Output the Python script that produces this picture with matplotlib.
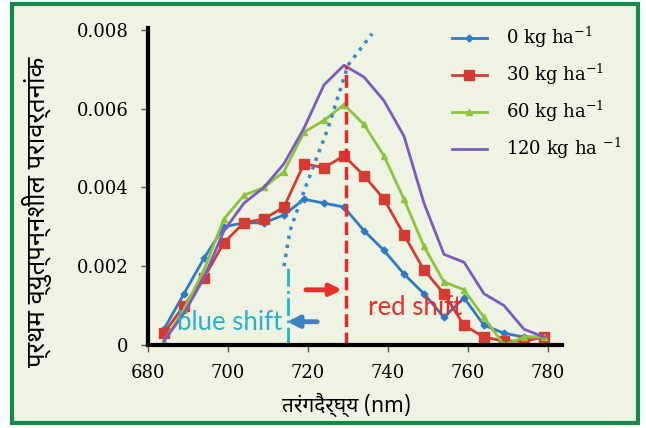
import matplotlib
matplotlib.use('Agg')
import matplotlib.pyplot as plt
from matplotlib import font_manager
from matplotlib.ft2font import FT2Font
from matplotlib.patches import Rectangle

""" Data """

wavelength = [684, 689, 694, 699, 704, 709, 714, 719, 724, 729,
              734, 739, 744, 749, 754, 759, 764, 769, 774, 779]
kg0 = [0.0004, 0.0013, 0.0022, 0.0030, 0.0031, 0.0031, 0.0033, 0.0037, 0.0036, 0.0035,
       0.0029, 0.0024, 0.0018, 0.0013, 0.0007, 0.0012, 0.0005, 0.0003, 0.0002, 0.0002]
kg30 = [0.0003, 0.0010, 0.0017, 0.0026, 0.0031, 0.0032, 0.0035, 0.0046, 0.0045, 0.0048,
        0.0043, 0.0037, 0.0028, 0.0019, 0.0013, 0.0005, 0.0002, 0.0001, 0.0001, 0.0002]
kg60 = [0.0001, 0.0009, 0.0019, 0.0032, 0.0038, 0.0040, 0.0044, 0.0054, 0.0057, 0.0061,
        0.0056, 0.0048, 0.0037, 0.0025, 0.0016, 0.0014, 0.0007, 0.0000, 0.0002, 0.0002]
kg120 = [0.0001, 0.0008, 0.0017, 0.0029, 0.0036, 0.0040, 0.0046, 0.0055, 0.0066, 0.0071,
         0.0068, 0.0062, 0.0053, 0.0036, 0.0023, 0.0021, 0.0013, 0.0010, 0.0004, 0.0002]
names = ['0 kg ha$^{-1}$', '30 kg ha$^{-1}$', '60 kg ha$^{-1}$', '120 kg ha $^{-1}$']

# red-edge trend (dotted) and the two shift markers
trend_x = [714, 715.5, 719, 725, 730, 736]
trend_y = [0.0020, 0.0029, 0.0039, 0.0055, 0.0071, 0.0079]
blue_edge = 715
red_edge = 729.5

ylabel = 'प्रथम व्युत्पन्नशील परावर्तनांक'
xlabel = 'तरंगदैर्घ्य (nm)'

""" Font with Devanagari """

def find_font(ch):
    found = []
    for f in font_manager.fontManager.ttflist:
        try:
            if ord(ch) in FT2Font(f.fname).get_charmap():
                found.append(f.name)
        except Exception:
            pass
    for pref in ['Noto Sans Devanagari', 'Noto Serif Devanagari', 'Lohit Devanagari',
                 'Mukta', 'FreeSans', 'FreeSerif']:
        if pref in found:
            return pref
    for name in found:
        if 'Mono' not in name:
            return name
    return found[0] if found else None

deva = find_font('क')
deva_family = [deva, 'DejaVu Serif'] if deva else ['DejaVu Serif']

serif = ['DejaVu Serif']
plt.rcParams['mathtext.fontset'] = 'dejavuserif'

""" Plot """

fig = plt.figure(figsize=(6.46, 4.28), dpi=100)
fig.patch.set_facecolor('white')
fig.patches.append(Rectangle((12 / 646, 5 / 428), 626 / 646, 419 / 428,
                             transform=fig.transFigure, facecolor='#eef3e3',
                             edgecolor='#16894a', linewidth=3, zorder=-5))

ax = fig.add_axes([0.229, 0.194, 0.641, 0.741])
ax.set_facecolor('none')

ax.plot(wavelength, kg0, '-D', color='#2f7bc2', markersize=3.5, linewidth=2, label=names[0])
ax.plot(wavelength, kg30, '-s', color='#d43c33', markersize=7, linewidth=2, label=names[1])
ax.plot(wavelength, kg60, '-^', color='#8dc43c', markersize=5, linewidth=2, label=names[2])
ax.plot(wavelength, kg120, '-', color='#7a5cc0', linewidth=2, label=names[3])

ax.plot(trend_x, trend_y, ':', color='#3c86c8', linewidth=2.5)
ax.plot([blue_edge, blue_edge], [0, trend_y[0]], '-.', color='#22b0c8', linewidth=2)
ax.plot([red_edge, red_edge], [0, max(kg120)], '--', color='#e8282a', linewidth=2.5)

ax.annotate('', xy=(728.5, 0.0014), xytext=(719.5, 0.0014),
            arrowprops=dict(arrowstyle='-|>', color='#e8302a', lw=3.5,
                            mutation_scale=17, shrinkA=0, shrinkB=0))
ax.annotate('', xy=(714.8, 0.00059), xytext=(722.3, 0.00059),
            arrowprops=dict(arrowstyle='-|>', color='#3d80c4', lw=3.5,
                            mutation_scale=17, shrinkA=0, shrinkB=0))
ax.text(687.3, 0.00058, 'blue shift', color='#2ab2cc', fontsize=18.5,
        family='Lato', va='center', ha='left', zorder=5)
ax.text(735, 0.00094, 'red shift', color='#e8302a', fontsize=18.5,
        family='Lato', va='center', ha='left', zorder=5)

ax.set_xlim(680.5, 783.5)
ax.set_ylim(0, 0.00805)
ax.set_xticks([680, 700, 720, 740, 760, 780])
ax.set_yticks([0, 0.002, 0.004, 0.006, 0.008])
ax.set_yticklabels(['0', '0.002', '0.004', '0.006', '0.008'])
# Hide the right and top spines
ax.spines['right'].set_visible(False)
ax.spines['top'].set_visible(False)
ax.spines['left'].set_linewidth(3)
ax.spines['bottom'].set_linewidth(3)
ax.tick_params(length=5, width=1, labelsize=13, color='#555555')
ax.tick_params(axis='y', pad=9)
ax.tick_params(axis='x', pad=9)
for lab in ax.get_xticklabels() + ax.get_yticklabels():
    lab.set_family(serif)

ax.set_xlabel(xlabel, family=deva_family, fontsize=15)
ax.xaxis.set_label_coords(0.48, -0.15)
ax.set_ylabel(ylabel, family=deva_family, fontsize=18.5)
ax.yaxis.set_label_coords(-0.232, 0.42)

fig.legend(loc='upper left', bbox_to_anchor=(436 / 646, 1 - 9 / 428),
           frameon=False, prop={'family': serif, 'size': 13},
           handlelength=1.9, handletextpad=1.1, labelspacing=0.65)

fig.savefig('out.png', dpi=100)
